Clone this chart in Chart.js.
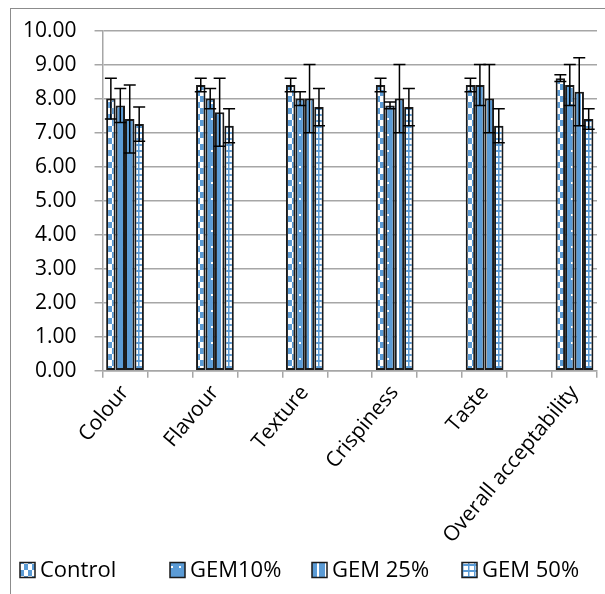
<!DOCTYPE html>
<html>
<head>
<meta charset="utf-8">
<script src="https://cdn.jsdelivr.net/npm/chart.js@4"></script>
<style>
  html, body { margin: 0; padding: 0; background: #fff; }
  #wrap { width: 605px; height: 594px; }
</style>
</head>
<body>
<div id="wrap"><canvas id="myBarChart" width="605" height="594"></canvas></div>
<script>
// sensory scores, mean and sd per sample
var categories = ['Colour', 'Flavour', 'Texture', 'Crispiness', 'Taste', 'Overall acceptability'];
var seriesNames = ['Control', 'GEM10%', 'GEM 25%', 'GEM 50%'];

var control = [8.0, 8.4, 8.4, 8.4, 8.4, 8.6];
var gem10 = [7.8, 8.0, 8.0, 7.8, 8.4, 8.4];
var gem25 = [7.4, 7.6, 8.0, 8.0, 8.0, 8.2];
var gem50 = [7.25, 7.2, 7.75, 7.75, 7.2, 7.4];

var controlSd = [0.6, 0.2, 0.2, 0.2, 0.2, 0.1];
var gem10Sd = [0.5, 0.3, 0.2, 0.1, 0.6, 0.6];
var gem25Sd = [1.0, 1.0, 1.0, 1.0, 1.0, 1.0];
var gem50Sd = [0.5, 0.5, 0.55, 0.55, 0.5, 0.3];

var yTicks = [0, 1, 2, 3, 4, 5, 6, 7, 8, 9, 10];

var BLUE = '#5B9BD5';
var FONT = "'Open Sans', sans-serif";

// excel leaves an empty slot between the groups
function spread(arr, blank) {
  var out = [];
  arr.forEach(function (v, i) {
    if (i > 0) out.push(blank);
    out.push(v);
  });
  return out;
}

function makePattern(kind) {
  var c = document.createElement('canvas');
  var g = c.getContext('2d');
  if (kind === 'checker') {
    c.width = 8; c.height = 12;
    g.fillStyle = '#fff'; g.fillRect(0, 0, 8, 12);
    g.fillStyle = BLUE;
    g.fillRect(0, 0, 4, 6);
    g.fillRect(4, 6, 4, 6);
  } else if (kind === 'dots') {
    c.width = 8; c.height = 16;
    g.fillStyle = BLUE; g.fillRect(0, 0, 8, 16);
    g.fillStyle = '#fff';
    g.fillRect(3, 6, 2, 2);
  } else if (kind === 'vstripe') {
    c.width = 8; c.height = 8;
    g.fillStyle = BLUE; g.fillRect(0, 0, 8, 8);
    g.fillStyle = '#fff';
    g.fillRect(5, 0, 2, 8);
  } else {
    c.width = 6; c.height = 6;
    g.fillStyle = '#fff'; g.fillRect(0, 0, 6, 6);
    g.fillStyle = BLUE;
    g.fillRect(0, 0, 6, 2);
    g.fillRect(0, 0, 1.5, 6);
  }
  return g.createPattern(c, 'repeat');
}

var values = [control, gem10, gem25, gem50];
var sds = [controlSd, gem10Sd, gem25Sd, gem50Sd];
var kinds = ['checker', 'dots', 'vstripe', 'grid'];

var datasets = seriesNames.map(function (name, i) {
  return {
    label: name,
    data: spread(values[i], null),
    sd: spread(sds[i], null),
    backgroundColor: makePattern(kinds[i]),
    borderColor: '#1a1a1a',
    borderWidth: 2,
    borderSkipped: false,
    categoryPercentage: 0.84,
    barPercentage: 1.0
  };
});

var frame = {
  id: 'frame',
  beforeDraw: function (chart) {
    var ctx = chart.ctx;
    ctx.save();
    ctx.fillStyle = '#fff';
    ctx.fillRect(0, 0, chart.width, chart.height);
    ctx.strokeStyle = '#8c8c8c';
    ctx.lineWidth = 1;
    ctx.strokeRect(10.5, 8.5, 600, 600);
    ctx.restore();
  }
};

// excel style error bars
var errorBars = {
  id: 'errorBars',
  afterDatasetsDraw: function (chart) {
    var y = chart.scales.y;
    var ctx = chart.ctx;
    ctx.save();
    ctx.strokeStyle = '#000';
    ctx.lineWidth = 1.5;
    chart.data.datasets.forEach(function (ds, i) {
      chart.getDatasetMeta(i).data.forEach(function (bar, j) {
        var v = ds.data[j];
        if (v === null) return;
        var hi = y.getPixelForValue(v + ds.sd[j]);
        var lo = y.getPixelForValue(v - ds.sd[j]);
        var x = bar.x;
        ctx.beginPath();
        ctx.moveTo(x, hi); ctx.lineTo(x, lo);
        ctx.moveTo(x - 6, hi); ctx.lineTo(x + 6, hi);
        ctx.moveTo(x - 6, lo); ctx.lineTo(x + 6, lo);
        ctx.stroke();
      });
    });
    ctx.restore();
  }
};

// legend row like the excel one: small box, short gap, text
var legendRow = {
  id: 'legendRow',
  afterDraw: function (chart) {
    var ctx = chart.ctx;
    var boxX = [20, 170, 312, 462];
    var midY = 570;
    ctx.save();
    ctx.font = '22px ' + FONT;
    ctx.textBaseline = 'middle';
    chart.data.datasets.forEach(function (ds, i) {
      var x = boxX[i];
      ctx.fillStyle = ds.backgroundColor;
      ctx.fillRect(x, midY - 7.5, 15, 15);
      ctx.strokeStyle = '#1a1a1a';
      ctx.lineWidth = 1.5;
      ctx.strokeRect(x, midY - 7.5, 15, 15);
      ctx.fillStyle = '#000';
      ctx.fillText(ds.label, x + 20, midY + 1);
    });
    ctx.restore();
  }
};

var ctxBar = document.getElementById('myBarChart').getContext('2d');
var myChart = new Chart(ctxBar, {
  type: 'bar',
  data: {
    labels: spread(categories, ''),
    datasets: datasets
  },
  plugins: [frame, errorBars, legendRow],
  options: {
    responsive: false,
    animation: false,
    layout: { padding: { left: 5, right: 8, top: 0, bottom: 43 } },
    plugins: {
      legend: { display: false },
      tooltip: { enabled: false }
    },
    scales: {
      x: {
        grid: {
          offset: true,
          drawOnChartArea: false,
          color: '#a6a6a6',
          lineWidth: 1.5,
          tickLength: 7
        },
        border: { color: '#a6a6a6', width: 1.5 },
        ticks: {
          autoSkip: false,
          minRotation: 50,
          maxRotation: 50,
          color: '#000',
          font: { family: FONT, size: 21 },
          padding: 3
        }
      },
      y: {
        min: 0,
        max: 10,
        afterBuildTicks: function (axis) {
          axis.ticks = yTicks.map(function (v) { return { value: v }; });
        },
        grid: {
          color: '#a6a6a6',
          lineWidth: 1.5,
          tickLength: 8
        },
        border: { color: '#a6a6a6', width: 1.5 },
        ticks: {
          color: '#000',
          font: { family: FONT, size: 21 },
          padding: 18,
          callback: function (v) { return Number(v).toFixed(2); }
        }
      }
    }
  }
});
</script>
</body>
</html>
